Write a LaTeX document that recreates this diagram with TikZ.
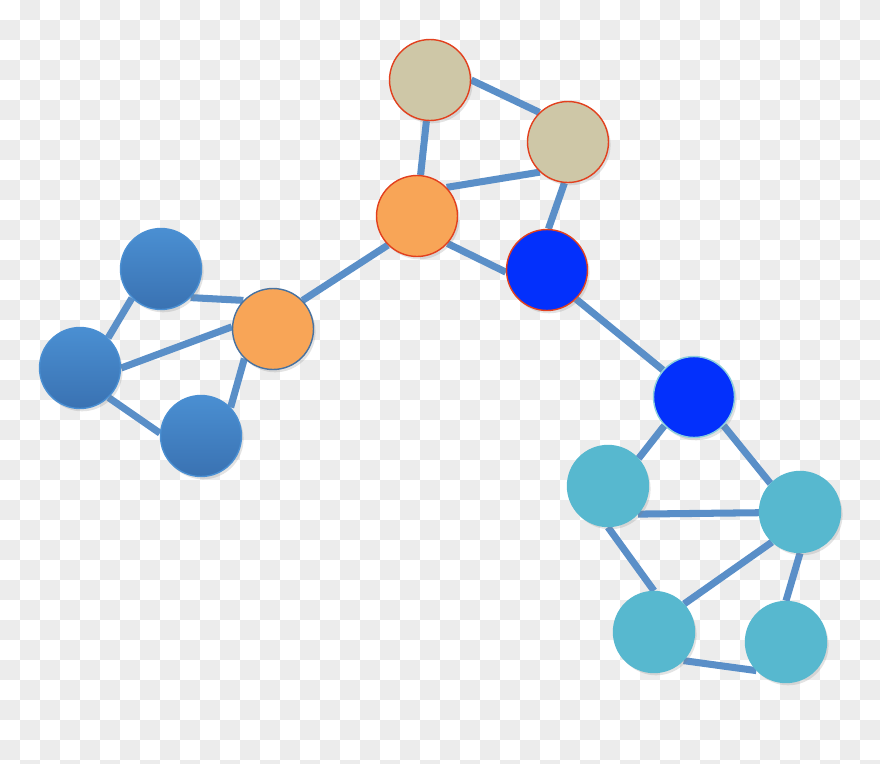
\documentclass[tikz,border=0pt]{standalone}
\usetikzlibrary{backgrounds,shadows}

\pgfdeclarelayer{backdrop}
\pgfsetlayers{backdrop,background,main}

\definecolor{tanfill}{HTML}{CEC7A7}
\definecolor{orangefill}{HTML}{F8A557}
\definecolor{brightblue}{HTML}{0330FC}
\definecolor{cyanfill}{HTML}{57B8CF}
\definecolor{bluetop}{HTML}{4A8FD2}
\definecolor{bluebot}{HTML}{3A72B2}
\definecolor{edgeblue}{HTML}{5A8FC8}
\definecolor{redrim}{HTML}{E2401E}
\definecolor{checkgray}{HTML}{ECECEC}

\tikzset{
    vertex/.style={circle, minimum size=1.62cm, inner sep=0pt, line width=0.8pt,
        drop shadow={shadow xshift=1.2pt, shadow yshift=-1.6pt, opacity=0.22}},
    tanvertex/.style={vertex, fill=tanfill, draw=redrim},
    hubvertex/.style={vertex, fill=orangefill, draw=redrim},
    bridgevertex/.style={vertex, fill=orangefill, draw=edgeblue!80!black},
    corevertex/.style={vertex, fill=brightblue, draw=redrim},
    linkvertex/.style={vertex, fill=brightblue, draw=cyanfill!70!white},
    leftvertex/.style={vertex, top color=bluetop, bottom color=bluebot, draw=bluetop},
    rightvertex/.style={vertex, fill=cyanfill, draw=cyanfill},
    link/.style={draw=edgeblue, line width=4pt}
}

\begin{document}
\begin{tikzpicture}[x=0.02cm, y=-0.02cm]

\useasboundingbox (0,0) rectangle (880,764);

% Checkered backdrop
\begin{pgfonlayer}{backdrop}
\fill[white] (0,0) rectangle (880,764);
\foreach \j in {0,...,38} {
    \pgfmathtruncatemacro{\off}{mod(\j+1,2)}
    \foreach \i in {0,2,...,44} {
        \fill[checkgray] ({(\i+\off)*20},{\j*20}) rectangle ++(20,20);
    }
}
\end{pgfonlayer}

% ----------------------------------------------------------
% Top cluster
% ----------------------------------------------------------
\node[tanvertex] (t1) at (430,80) {};
\node[tanvertex] (t2) at (568,142) {};
\node[hubvertex] (h1) at (417,216) {};
\node[corevertex] (c1) at (547,270) {};

% ----------------------------------------------------------
% Left cluster
% ----------------------------------------------------------
\node[bridgevertex] (h2) at (273,329) {};
\node[leftvertex] (l1) at (161,269) {};
\node[leftvertex] (l2) at (80,368) {};
\node[leftvertex] (l3) at (201,436) {};

% ----------------------------------------------------------
% Right cluster
% ----------------------------------------------------------
\node[linkvertex] (c2) at (694,397) {};
\node[rightvertex] (r1) at (608,486) {};
\node[rightvertex] (r2) at (800,512) {};
\node[rightvertex] (r3) at (654,632) {};
\node[rightvertex] (r4) at (786,642) {};

% Edges behind the vertices, rim to rim
\begin{pgfonlayer}{background}
\foreach \a/\b in {t1.0/t2.134, t1.265/h1.85, h1.44/t2.227, t2.265/c1.88,
                   h1.-42/c1.183, h1.225/h2.44, c1.-45/c2.139} {
    \draw[link] (\a) -- (\b);
}
\foreach \a/\b in {l1.-44/h2.136, l1.225/l2.47, l2.0/h2.177,
                   l2.-46/l3.176, l3.44/h2.226} {
    \draw[link] (\a) -- (\b);
}
\foreach \a/\b in {c2.224/r1.42, c2.-44/r2.136, r1.-43/r2.181, r1.270/r3.90,
                   r2.227/r3.43, r2.270/r4.90, r3.-44/r4.224} {
    \draw[link] (\a) -- (\b);
}
\end{pgfonlayer}

\end{tikzpicture}
\end{document}
